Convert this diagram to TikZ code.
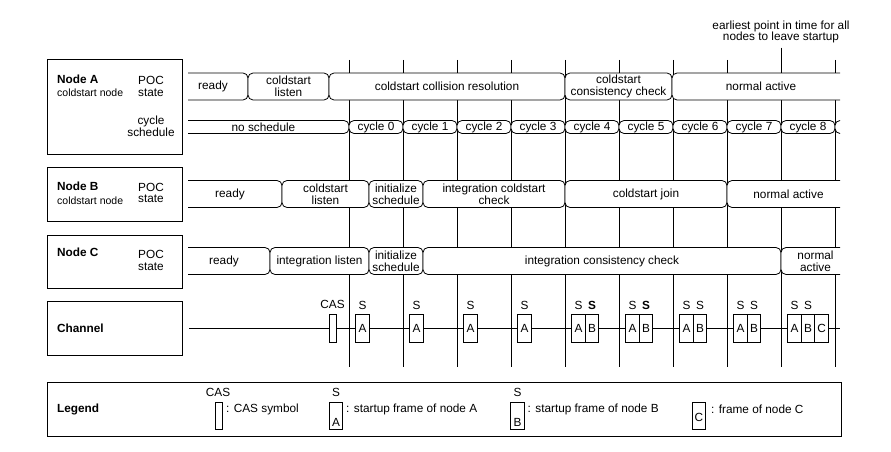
\documentclass[tikz,border=0pt]{standalone}
\usepackage{fontspec}
\setmainfont{Liberation Sans}
\usepackage{tikz}
\usetikzlibrary{positioning}

\begin{document}
\begin{tikzpicture}[x=1pt,y=-1pt]
	\tikzstyle{every node} = [font=\fontsize{11.8}{11.8}\selectfont, inner sep=0pt]
	\tikzstyle{seg} = [draw, fill=white, rounded corners=5pt, align=center, line width=0.8pt]
	\tikzstyle{panel} = [draw, line width=1pt, anchor=north west]
	\tikzstyle{frame} = [draw, fill=white, line width=0.8pt, minimum width=13.5, minimum height=28]
	\useasboundingbox (0,0) rectangle (891,452);

% left boxes
\node[panel, minimum width=135, minimum height=95] (pa) at (47,59) {};
\node[panel, minimum width=135, minimum height=54] (pb) at (47,167) {};
\node[panel, minimum width=135, minimum height=53] (pc) at (47,235) {};
\node[panel, minimum width=135, minimum height=54] (pch) at (47,301) {};
\node[panel, minimum width=794, minimum height=54] (pl) at (47,382) {};

\node[anchor=west, font=\fontsize{11.8}{11.8}\selectfont\bfseries] (na) at (57,79.5) {Node A};
\node[anchor=west, font=\fontsize{10.5}{10.5}\selectfont] (nac) at (57,93) {coldstart node};
\node[align=center] (pocA) at (151,86.7) {POC\\state};
\node[align=center] (cycA) at (151,126) {cycle\\schedule};
\node[anchor=west, font=\fontsize{11.8}{11.8}\selectfont\bfseries] (nb) at (57,186) {Node B};
\node[anchor=west, font=\fontsize{10.5}{10.5}\selectfont] (nbc) at (57,200.5) {coldstart node};
\node[align=center] (pocB) at (151,193) {POC\\state};
\node[anchor=west, font=\fontsize{11.8}{11.8}\selectfont\bfseries] (nc) at (57,252.5) {Node C};
\node[align=center] (pocC) at (151,260.5) {POC\\state};
\node[anchor=west, font=\fontsize{11.8}{11.8}\selectfont\bfseries] (nch) at (57,328) {Channel};
\node[anchor=west, font=\fontsize{11.8}{11.8}\selectfont\bfseries] (nl) at (57,409) {Legend};

% cycle lines
\node[align=center] (earliest) at (781,32) {earliest point in time for all\\nodes to leave startup};
\foreach \x in {349,403,457,511,565,619,673,727,835}
	\path[draw, line width=0.8pt] (\x,60) -- (\x,367);
\coordinate (tend) at (781,367);
\path[draw, line width=0.8pt] ([yshift=-4pt]earliest.south) -- (tend);

\begin{scope}
\clip (188,0) rectangle (840,452);
% node A, POC state
\node[seg, minimum width=70, minimum height=27] (a1) at (213,86.5) {ready};
\node[seg, minimum width=81, minimum height=27] (a2) at (288.5,86.5) {coldstart\\listen};
\node[seg, minimum width=236, minimum height=27] (a3) at (447,86.5) {coldstart collision resolution};
\node[seg, minimum width=107, minimum height=27] (a4) at (618.5,86.5) {coldstart\\consistency check};
\node[seg, minimum width=178, minimum height=27] (a5) at (761,86.5) {normal active};
% node A, cycle schedule
\node[seg, minimum width=171, minimum height=13] (c) at (263.5,127) {no schedule};
\foreach \k in {0,...,8}
	\node[seg, minimum width=54, minimum height=13] (c\k) at (376+54*\k,127) {cycle \k};
\node[seg, minimum width=54, minimum height=13] (c9) at (862,127) {};
% node B
\node[seg, minimum width=104, minimum height=27] (b1) at (230,194) {ready};
\node[seg, minimum width=87, minimum height=27] (b2) at (325.5,194) {coldstart\\listen};
\node[seg, minimum width=54, minimum height=27] (b3) at (396,194) {initialize\\schedule};
\node[seg, minimum width=142, minimum height=27] (b4) at (494,194) {integration coldstart\\check};
\node[seg, minimum width=162, minimum height=27] (b5) at (646,194) {coldstart join};
\node[seg, minimum width=123, minimum height=27] (b6) at (788.5,194) {normal active};
% node C
\node[seg, minimum width=92, minimum height=27] (r1) at (224,261) {ready};
\node[seg, minimum width=99, minimum height=27] (r2) at (319.5,261) {integration listen};
\node[seg, minimum width=54, minimum height=27] (r3) at (396,261) {initialize\\schedule};
\node[seg, minimum width=358, minimum height=27] (r4) at (602,261) {integration consistency check};
\node[seg, minimum width=69, minimum height=27] (r5) at (815.5,261) {normal\\active};
\end{scope}

% channel
\coordinate (ch0) at (189,328);
\coordinate (ch1) at (840,328);
\path[draw, line width=0.8pt] (ch0) -- (ch1);
\node[frame, minimum width=7] (cas) at (333,328) {};
\node (caslbl) at (332.5,304) {CAS};
\foreach \x in {349,403,457,511} {
	\node[frame] (fa\x) at (\x+13.5,328) {A};
	\node (sa\x) at (\x+13.5,305) {S};
}
\foreach \x/\sb in {565/\bfseries,619/\bfseries,673/\relax,727/\relax} {
	\node[frame] (fa\x) at (\x+13.5,328) {A};
	\node[frame] (fb\x) at (\x+27,328) {B};
	\node (sa\x) at (\x+13.5,305) {S};
	\node (sb\x) at (\x+27,305) {\sb S};
}
\node[frame] (fa781) at (794.5,328) {A};
\node[frame] (fb781) at (808,328) {B};
\node[frame] (fc781) at (821.5,328) {C};
\node (sa781) at (794.5,305) {S};
\node (sb781) at (808,305) {S};

% legend
\node (lcas) at (218,392) {CAS};
\node[frame, minimum width=7, minimum height=27] (lcasbox) at (218.5,415.5) {};
\node[anchor=west] (lcastxt) at (226,409) {: CAS symbol};
\node (lsa) at (336,392) {S};
\node[frame, minimum height=27] (lA) at (336,415.5) {};
\node (lAt) at (336,422) {A};
\node[anchor=west] (lAtxt) at (346,409.5) {: startup frame of node A};
\node (lsb) at (517.5,392) {S};
\node[frame, minimum height=27] (lB) at (517.5,415.5) {};
\node (lBt) at (517.5,422) {B};
\node[anchor=west] (lBtxt) at (527.5,409) {: startup frame of node B};
\node[frame, minimum height=27] (lC) at (699,415.5) {};
\node (lCt) at (699,417) {C};
\node[anchor=west] (lCtxt) at (711,409) {: frame of node C};
\end{tikzpicture}
\end{document}
